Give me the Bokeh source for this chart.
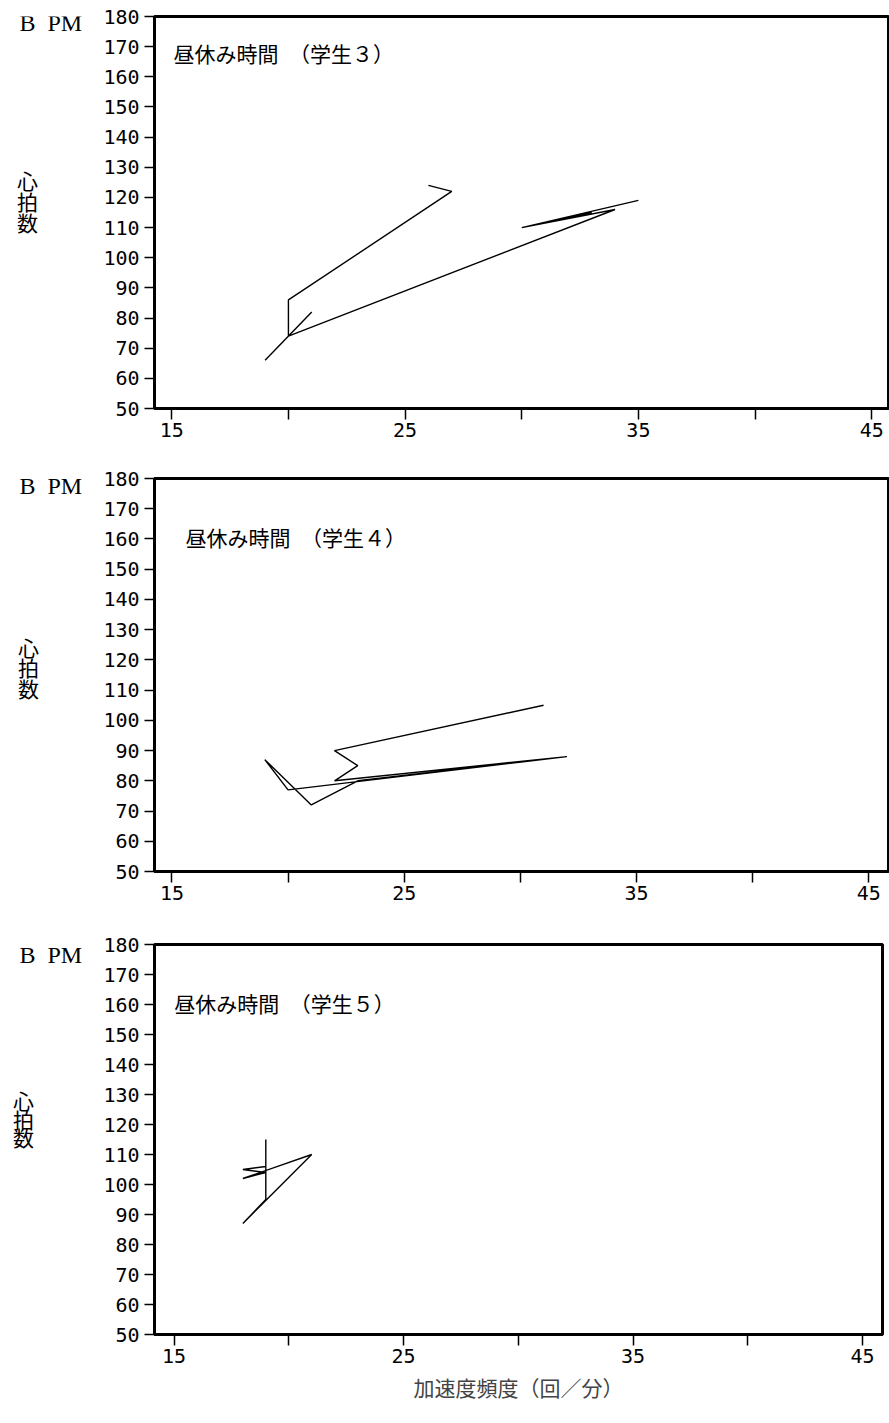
from bokeh.plotting import figure
from bokeh.layouts import column, row
from bokeh.models import FixedTicker, Label
from bokeh.core.properties import value
from bokeh.embed import file_html
from bokeh.resources import INLINE

# ---- data ----
s3_freq = [26, 27, 20, 20, 21, 19, 20, 34, 30, 33, 30, 35]
s3_bpm = [124, 122, 86, 74, 82, 66, 74, 116, 110, 115, 110, 119]

s4_freq = [31, 22, 23, 22, 32, 23, 21, 19, 20, 32]
s4_bpm = [105, 90, 85, 80, 88, 80, 72, 87, 77, 88]

s5_freq = [19, 19, 18, 21, 18, 19, 18, 19]
s5_bpm = [115, 95, 87, 110, 102, 104, 105, 106]

titles = ["昼休み時間　（学生３）", "昼休み時間　（学生４）", "昼休み時間　（学生５）"]
y_ticks = list(range(50, 181, 10))
x_ticks = [15, 20, 25, 30, 35, 40, 45]
x_tick_labels = {15: "15", 20: "", 25: "25", 30: "", 35: "35", 40: "", 45: "45"}
x_title = "加速度頻度（回／分）"
y_title_chars = ["心", "拍", "数"]
unit_label = "B\u00a0\u00a0PM"

MONO = "DejaVu Sans Mono"
CJK = "Noto Sans CJK JP"
LW = 100  # width of the side strip holding the outer y texts

# layout per panel: (height, left, right, top, bottom, xstart, xend)
panels = [
    (455, 152, 1, 16, 47, 14.26, 45.72),
    (460, 154, 1, 23, 44, 14.25, 45.85),
    (508, 148, 7, 29, 89, 14.15, 45.87),
]
series = [(s3_freq, s3_bpm), (s4_freq, s4_bpm), (s5_freq, s5_bpm)]

rows = []
for i, ((h, l, r, t, b, x0, x1), (xs, ys)) in enumerate(zip(panels, series)):
    # side strip with "BPM" and the stacked 心拍数 (y in pixels from top)
    s = figure(width=LW, height=h, x_range=(0, LW), y_range=(h, 0), title=None,
               x_axis_location=None, y_axis_location=None,
               output_backend="svg", toolbar_location=None,
               min_border=0, min_border_left=0, min_border_right=0,
               min_border_top=0, min_border_bottom=0)
    s.grid.visible = False
    s.outline_line_color = None
    by = [t - 8, t - 14, t - 15][i]
    s.text(x=[19], y=[by], text=[unit_label], text_font=value("Liberation Serif"),
           text_font_size="24px", text_baseline="middle", text_align="left",
           text_color="black")
    cx = [27, 28, 23][i]
    s.text(x=[cx] * 3, y=[t + 174 + 24 * k for k in range(3)], text=y_title_chars,
           text_font=value(CJK), text_font_size="21px", text_baseline="middle",
           text_align="center", text_color="black")

    p = figure(width=889 - LW, height=h, x_range=(x0, x1), y_range=(50, 180),
               output_backend="svg", toolbar_location=None,
               min_border_left=l - LW, min_border_right=r,
               min_border_top=t, min_border_bottom=b)
    p.grid.visible = False
    p.outline_line_color = "black"
    p.outline_line_width = 3
    p.background_fill_color = "white"
    p.border_fill_color = "white"

    p.line(xs, ys, line_color="black", line_width=1.4)

    ya = p.yaxis[0]
    ya.ticker = FixedTicker(ticks=y_ticks)
    ya.minor_tick_line_color = None
    ya.major_tick_in = 0
    ya.major_tick_out = 10
    ya.major_tick_line_width = 1.5
    ya.axis_line_width = 3
    ya.major_label_standoff = 5
    ya.major_label_text_font = MONO
    ya.major_label_text_font_size = "20px"
    ya.major_label_text_color = "black"

    xa = p.xaxis[0]
    xa.ticker = FixedTicker(ticks=x_ticks)
    xa.major_label_overrides = x_tick_labels
    xa.minor_tick_line_color = None
    xa.major_tick_in = 0
    xa.major_tick_out = 11
    xa.major_tick_line_width = 1.5
    xa.axis_line_width = 3
    xa.major_label_standoff = 3
    xa.major_label_text_font = MONO
    xa.major_label_text_font_size = "20px"
    xa.major_label_text_color = "black"
    if i == 2:
        xa.axis_label = x_title
        xa.axis_label_text_font = CJK
        xa.axis_label_text_font_size = "21px"
        xa.axis_label_text_font_style = "normal"
        xa.axis_label_standoff = 6

    fw = 889 - l - r
    fh = h - t - b
    ppx = fw / (x1 - x0)
    ppy = fh / 130.0

    tx = [171, 185, 168][i]
    tyo = [36, 58, 58][i]
    p.add_layout(Label(x=x0 + (tx - l) / ppx, y=180 - tyo / ppy, text=titles[i],
                       text_font=CJK, text_font_size="21px", text_baseline="middle",
                       text_align="left", text_color="black"))
    rows.append(row(s, p, spacing=0))

layout = column(*rows, spacing=0)
open("out.html", "w").write(file_html(layout, INLINE))
